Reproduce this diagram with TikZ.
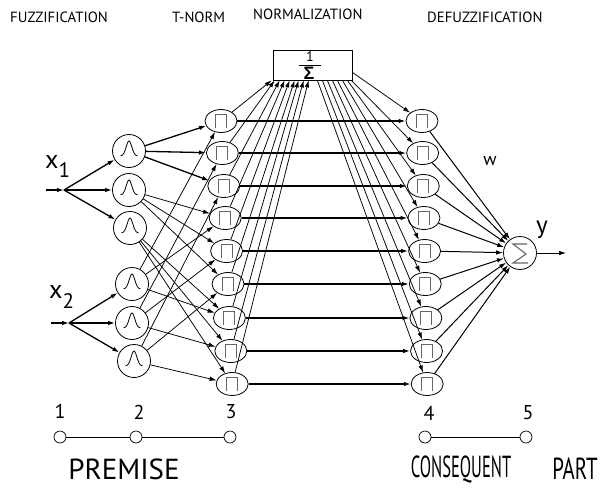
\documentclass[tikz,border=0pt]{standalone}
\usepackage{fontspec}
\usepackage{graphicx}
\setmainfont{PT Sans}
\newfontfamily\greekfont{Liberation Sans}
\usetikzlibrary{arrows.meta,calc,shapes.geometric}

\begin{document}
\begin{tikzpicture}[x=1pt,y=-1pt,
  arr/.style={-{Latex[length=7pt,width=4.5pt]}},
  edge/.style={line width=0.75pt},
  bold/.style={line width=1.3pt},
  mf/.style={circle,draw,line width=0.8pt,minimum size=33pt,inner sep=0pt},
  rulebox/.style={ellipse,draw,line width=0.8pt,minimum width=32pt,minimum height=23pt,inner sep=0pt},
  pulse/.style={draw=black!60,line width=1.1pt},
  toplbl/.style={font=\fontsize{14.8}{15}\selectfont,inner sep=0pt,anchor=west},
  dot/.style={circle,draw,line width=0.7pt,minimum size=12pt,inner sep=0pt,fill=white},
  num/.style={font=\fontsize{20}{20}\selectfont,inner sep=0pt},
  big/.style={font=\fontsize{29}{29}\selectfont,inner sep=0pt},
]
\useasboundingbox (0,0) rectangle (603,488);

% layer titles
\node[toplbl] (tfuzz) at (10,17) {FUZZIFICATION};
\node[toplbl] (tnorm) at (172,17) {T-NORM};
\node[toplbl] (tnormal) at (253,14) {NORMALIZATION};
\node[toplbl] (tdefuzz) at (427,17) {DEFUZZIFICATION};

% inputs
\node[inner sep=0pt,anchor=base west,font=\fontsize{26}{26}\selectfont] (lx1) at (45,168) {x\raisebox{-9pt}{\fontsize{21}{21}\selectfont 1}};
\node[inner sep=0pt,anchor=base west,font=\fontsize{26}{26}\selectfont] (lx2) at (49,298) {x\raisebox{-10pt}{\fontsize{21}{21}\selectfont 2}};
\coordinate (s1) at (46,190);
\coordinate (p1) at (64,190);
\coordinate (s2) at (51,323);
\coordinate (p2) at (69,323);

% membership functions
\node[mf] (a1) at (129,151) {};
\node[mf] (a2) at (129,190) {};
\node[mf] (a3) at (130,228) {};
\node[mf] (b1) at (132,284) {};
\node[mf] (b2) at (132,323) {};
\node[mf] (b3) at (134,361) {};
\foreach \n in {a1,a2,a3,b1,b2,b3}
  \draw[line width=0.8pt,shift={(\n.center)}] plot[domain=-8.5:8.5,samples=41,smooth] (\x,{5-15*exp(-(\x/4)^2)});

% rule and consequent nodes
\foreach \i/\y in {1/121,2/153,3/186,4/218,5/251,6/284,7/318,8/351,9/384} {
  \node[rulebox] (r\i) at ({221+1.4*(\i-1)},\y) {};
  \node[rulebox] (c\i) at ({422+0.65*(\i-1)},\y) {};
}
\foreach \n in {r1,r2,r3,r4,r5,r6,r7,r8,r9,c1,c2,c3,c4,c5,c6,c7,c8,c9}
  \draw[pulse,shift={(\n.center)}] (-5.5,6.5) -- (-5.5,-6.5) -- (5.5,-6.5) -- (5.5,6.5);

% normalization block
\node[draw,line width=0.8pt,minimum width=79pt,minimum height=30pt,inner sep=0pt] (norm) at (312.5,65) {};
\node[inner sep=0pt,font=\fontsize{14}{14}\selectfont] (one) at (310,57) {1};
\draw[line width=1.2pt] ($(norm.center)+(-13.5,0.5)$) -- ($(norm.center)+(8,0.5)$);
\node[inner sep=0pt,font=\greekfont\bfseries\fontsize{18}{18}\selectfont] (sig) at (309,73.5) {Σ};

% summation node
\node[mf] (sum) at (520,253) {};
\draw[pulse,shift={(sum.center)}] (7,-9) -- (-7,-9) -- (6,1) -- (-7,10) -- (8,10);
\coordinate (out) at (566,253);
\node[inner sep=0pt,font=\fontsize{25}{25}\selectfont] (ly) at (542,230) {y};
\node[inner sep=0pt,font=\fontsize{18}{18}\selectfont] (lw) at (490,161) {w};

% input branches
\draw[arr,bold] (s1) -- (p1);
\draw[arr,bold] (s2) -- (p2);
\foreach \k in {1,2,3} {
  \draw[arr,bold] (p1) -- (a\k);
  \draw[arr,bold] (p2) -- (b\k);
}

% premise combinations
\foreach \i in {1,2,3} \foreach \j in {1,2,3} {
  \pgfmathtruncatemacro\r{3*(\i-1)+\j}
  \ifnum\i=1
    \draw[arr,bold] (a\i) -- (r\r);
  \else
    \draw[arr,edge] (a\i) -- (r\r);
  \fi
  \draw[arr,edge] (b\j) -- (r\r);
}

% firing strengths into the normalization block
\foreach \i/\d in {1/-1,2/2,3/7,4/12,5/17,6/22,7/26,8/31,9/36}
  \coordinate (n\i) at ($(norm.south west)+(\d,0)$);
\foreach \i in {1,...,9}
  \draw[arr,edge] (r\i) -- (n\i);

% normalized strengths out of the block
\coordinate (m1) at ($(norm.south east)+(0,-8)$);
\coordinate (m2) at ($(norm.south east)+(-1,0)$);
\foreach \i/\d in {3/5,4/10,5/15,6/20,7/25,8/30,9/35}
  \coordinate (m\i) at ($(norm.south east)+(-\d,0)$);
\foreach \i in {1,...,9} {
  \draw[arr,edge] (m\i) -- (c\i);
  \draw[arr,bold] (r\i) -- (c\i);
  \draw[arr,line width=1pt] (c\i) -- (sum);
}
\draw[arr,edge] (sum) -- (out);

% layer index line
\node[dot] (o1) at (60,437) {};
\node[dot] (o2) at (136,437) {};
\node[dot] (o3) at (230,437) {};
\node[dot] (o4) at (425,437) {};
\node[dot] (o5) at (526,437) {};
\draw[edge] (o1) -- (o2);
\draw[edge] (o2) -- (o3);
\draw[edge] (o4) -- (o5);
\node[num] (k1) at (60,411) {1};
\node[num] (k2) at (139,412) {2};
\node[num] (k3) at (231,412) {3};
\node[num] (k4) at (429,413) {4};
\node[num] (k5) at (528,413) {5};

\node[big] (prem) at (124,469) {PREMISE};
\node[big] (cons) at (461,469) {\scalebox{0.57}[1.05]{CONSEQUENT}};
\node[big] (part) at (575,469) {\scalebox{0.72}[1.05]{PART}};
\end{tikzpicture}
\end{document}
